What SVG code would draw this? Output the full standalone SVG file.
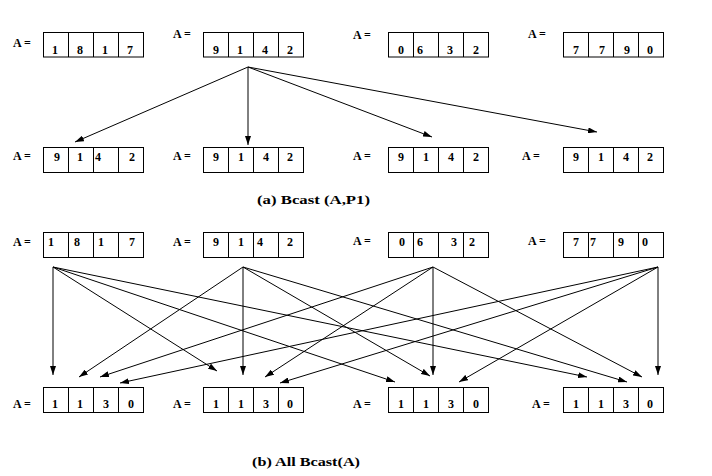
<svg xmlns="http://www.w3.org/2000/svg" width="712" height="476" viewBox="0 0 712 476">
<style>
.cell{fill:#fff;stroke:#000;stroke-width:1}
.t{font-family:"Liberation Serif","Times New Roman",serif;font-weight:bold;font-size:12px;fill:#000}
.d{text-anchor:middle}
.cap{font-family:"Liberation Serif","Times New Roman",serif;font-weight:bold;font-size:13.5px;fill:#000}
.c{stroke:#000;stroke-width:1;fill:none;marker-end:url(#ah)}
</style>
<defs>
<marker id="ah" markerUnits="userSpaceOnUse" markerWidth="10" markerHeight="6" refX="9" refY="3" orient="auto">
<path d="M0,0 L9,3 L0,6 Z" fill="#000"/>
</marker>
</defs>
<rect width="712" height="476" fill="#fff"/>

<!-- Row 1 -->
<g id="r1n1">
<text class="t" x="13" y="47">A =</text>
<rect class="cell" x="43.5" y="32.5" width="100" height="24.5"/>
<path d="M68.5,32.5V57M93.5,32.5V57M118.5,32.5V57" stroke="#000"/>
<text class="t d" x="55" y="53.5">1</text><text class="t d" x="80" y="53.5">8</text><text class="t d" x="105" y="53.5">1</text><text class="t d" x="130" y="53.5">7</text>
</g>
<g id="r1n2">
<text class="t" x="173" y="38">A =</text>
<rect class="cell" x="203.5" y="32.5" width="100" height="24.5"/>
<path d="M228.5,32.5V57M253.5,32.5V57M278.5,32.5V57" stroke="#000"/>
<text class="t d" x="216" y="53.5">9</text><text class="t d" x="240" y="53.5">1</text><text class="t d" x="265" y="53.5">4</text><text class="t d" x="290" y="53.5">2</text>
</g>
<g id="r1n3">
<text class="t" x="353" y="39">A =</text>
<rect class="cell" x="388.5" y="32.5" width="100" height="24.5"/>
<path d="M413.5,32.5V57M438.5,32.5V57M463.5,32.5V57" stroke="#000"/>
<text class="t d" x="401" y="53.5">0</text><text class="t d" x="420" y="53.5">6</text><text class="t d" x="450" y="53.5">3</text><text class="t d" x="476" y="53.5">2</text>
</g>
<g id="r1n4">
<text class="t" x="528" y="37.5">A =</text>
<rect class="cell" x="563.5" y="32.5" width="100" height="24.5"/>
<path d="M588.5,32.5V57M613.5,32.5V57M638.5,32.5V57" stroke="#000"/>
<text class="t d" x="576" y="53.5">7</text><text class="t d" x="602" y="53.5">7</text><text class="t d" x="627" y="53.5">9</text><text class="t d" x="650" y="53.5">0</text>
</g>

<!-- Row 2 -->
<g id="r2n1">
<text class="t" x="13" y="160">A =</text>
<rect class="cell" x="43.5" y="147.5" width="100" height="25"/>
<path d="M68.5,147.5V172.5M93.5,147.5V172.5M118.5,147.5V172.5" stroke="#000"/>
<text class="t d" x="57" y="160.5">9</text><text class="t d" x="80" y="160.5">1</text><text class="t d" x="98" y="160.5">4</text><text class="t d" x="132" y="160.5">2</text>
</g>
<g id="r2n2">
<text class="t" x="173" y="160">A =</text>
<rect class="cell" x="203.5" y="147.5" width="100" height="25"/>
<path d="M228.5,147.5V172.5M253.5,147.5V172.5M278.5,147.5V172.5" stroke="#000"/>
<text class="t d" x="216" y="160.5">9</text><text class="t d" x="241" y="160.5">1</text><text class="t d" x="266" y="160.5">4</text><text class="t d" x="290" y="160.5">2</text>
</g>
<g id="r2n3">
<text class="t" x="353" y="160">A =</text>
<rect class="cell" x="388.5" y="147.5" width="100" height="25"/>
<path d="M413.5,147.5V172.5M438.5,147.5V172.5M463.5,147.5V172.5" stroke="#000"/>
<text class="t d" x="401" y="160.5">9</text><text class="t d" x="426" y="160.5">1</text><text class="t d" x="451" y="160.5">4</text><text class="t d" x="476" y="160.5">2</text>
</g>
<g id="r2n4">
<text class="t" x="522" y="160">A =</text>
<rect class="cell" x="563.5" y="147.5" width="100" height="25"/>
<path d="M588.5,147.5V172.5M613.5,147.5V172.5M638.5,147.5V172.5" stroke="#000"/>
<text class="t d" x="576" y="160.5">9</text><text class="t d" x="601" y="160.5">1</text><text class="t d" x="626" y="160.5">4</text><text class="t d" x="650" y="160.5">2</text>
</g>

<g id="caption-a"><text class="cap" x="257" y="203.5" textLength="113" lengthAdjust="spacingAndGlyphs">(a) Bcast (A,P1)</text></g>

<!-- Row 3 -->
<g id="r3n1">
<text class="t" x="13" y="246">A =</text>
<rect class="cell" x="43.5" y="232.5" width="100" height="25"/>
<path d="M68.5,232.5V257.5M93.5,232.5V257.5M118.5,232.5V257.5" stroke="#000"/>
<text class="t d" x="51" y="246">1</text><text class="t d" x="77" y="246">8</text><text class="t d" x="101" y="246">1</text><text class="t d" x="132" y="246">7</text>
</g>
<g id="r3n2">
<text class="t" x="173" y="246">A =</text>
<rect class="cell" x="203.5" y="232.5" width="100" height="25"/>
<path d="M228.5,232.5V257.5M253.5,232.5V257.5M278.5,232.5V257.5" stroke="#000"/>
<text class="t d" x="216" y="246">9</text><text class="t d" x="241" y="246">1</text><text class="t d" x="260" y="246">4</text><text class="t d" x="290" y="246">2</text>
</g>
<g id="r3n3">
<text class="t" x="353" y="244.5">A =</text>
<rect class="cell" x="388.5" y="232.5" width="100" height="25"/>
<path d="M413.5,232.5V257.5M438.5,232.5V257.5M463.5,232.5V257.5" stroke="#000"/>
<text class="t d" x="402" y="246">0</text><text class="t d" x="420" y="246">6</text><text class="t d" x="454" y="246">3</text><text class="t d" x="472" y="246">2</text>
</g>
<g id="r3n4">
<text class="t" x="528" y="244.5">A =</text>
<rect class="cell" x="563.5" y="232.5" width="100" height="25"/>
<path d="M588.5,232.5V257.5M613.5,232.5V257.5M638.5,232.5V257.5" stroke="#000"/>
<text class="t d" x="576" y="246">7</text><text class="t d" x="593" y="246">7</text><text class="t d" x="621" y="246">9</text><text class="t d" x="645" y="246">0</text>
</g>

<!-- Row 4 -->
<g id="r4n1">
<text class="t" x="13" y="407.5">A =</text>
<rect class="cell" x="43.5" y="387.5" width="100" height="25"/>
<path d="M68.5,387.5V412.5M93.5,387.5V412.5M118.5,387.5V412.5" stroke="#000"/>
<text class="t d" x="55" y="407.5">1</text><text class="t d" x="80" y="407.5">1</text><text class="t d" x="106" y="407.5">3</text><text class="t d" x="131" y="407.5">0</text>
</g>
<g id="r4n2">
<text class="t" x="173" y="407.5">A =</text>
<rect class="cell" x="203.5" y="387.5" width="100" height="25"/>
<path d="M228.5,387.5V412.5M253.5,387.5V412.5M278.5,387.5V412.5" stroke="#000"/>
<text class="t d" x="216" y="407.5">1</text><text class="t d" x="241" y="407.5">1</text><text class="t d" x="266" y="407.5">3</text><text class="t d" x="290" y="407.5">0</text>
</g>
<g id="r4n3">
<text class="t" x="353" y="407.5">A =</text>
<rect class="cell" x="388.5" y="387.5" width="100" height="25"/>
<path d="M413.5,387.5V412.5M438.5,387.5V412.5M463.5,387.5V412.5" stroke="#000"/>
<text class="t d" x="401" y="407.5">1</text><text class="t d" x="426" y="407.5">1</text><text class="t d" x="451" y="407.5">3</text><text class="t d" x="476" y="407.5">0</text>
</g>
<g id="r4n4">
<text class="t" x="532" y="407.5">A =</text>
<rect class="cell" x="563.5" y="387.5" width="100" height="25"/>
<path d="M588.5,387.5V412.5M613.5,387.5V412.5M638.5,387.5V412.5" stroke="#000"/>
<text class="t d" x="576" y="407.5">1</text><text class="t d" x="601" y="407.5">1</text><text class="t d" x="626" y="407.5">3</text><text class="t d" x="650" y="407.5">0</text>
</g>

<g id="caption-b"><text class="cap" x="252" y="465.5" textLength="108" lengthAdjust="spacingAndGlyphs">(b) All Bcast(A)</text></g>

<g id="connectors">
<line class="c" x1="248" y1="67" x2="75" y2="142"/>
<line class="c" x1="248" y1="67" x2="248" y2="145"/>
<line class="c" x1="248" y1="67" x2="432" y2="137"/>
<line class="c" x1="248" y1="67" x2="597" y2="132"/>

<line class="c" x1="53" y1="267" x2="53" y2="375"/>
<line class="c" x1="53" y1="267" x2="217" y2="371"/>
<line class="c" x1="53" y1="267" x2="395" y2="382"/>
<line class="c" x1="53" y1="267" x2="587" y2="377"/>

<line class="c" x1="243" y1="267" x2="79" y2="377"/>
<line class="c" x1="243" y1="267" x2="243" y2="375"/>
<line class="c" x1="243" y1="267" x2="430" y2="376"/>
<line class="c" x1="243" y1="267" x2="627" y2="382"/>

<line class="c" x1="433" y1="267" x2="100" y2="377"/>
<line class="c" x1="433" y1="267" x2="265" y2="377"/>
<line class="c" x1="433" y1="267" x2="433" y2="375"/>
<line class="c" x1="433" y1="267" x2="642" y2="377"/>

<line class="c" x1="658" y1="267" x2="120" y2="383"/>
<line class="c" x1="658" y1="267" x2="280" y2="383"/>
<line class="c" x1="658" y1="267" x2="459" y2="382"/>
<line class="c" x1="658" y1="267" x2="658" y2="375"/>
</g>
</svg>
